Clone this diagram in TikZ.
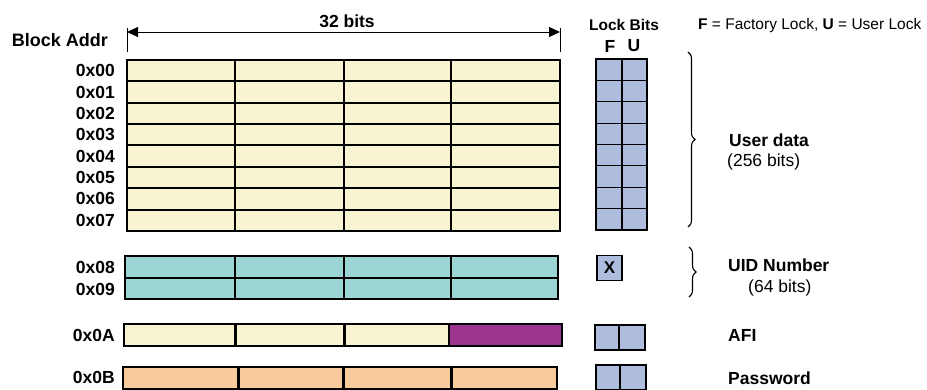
\documentclass[tikz,border=0pt]{standalone}
\usepackage{fontspec}
\setmainfont{Liberation Sans}
\usetikzlibrary{decorations.pathreplacing,arrows.meta}
\definecolor{cream}{HTML}{F8F3D0}
\definecolor{teal}{HTML}{9BD6D4}
\definecolor{purp}{HTML}{9C3590}
\definecolor{orng}{HTML}{F7CB9B}
\definecolor{lockb}{HTML}{AEBDDE}
\begin{document}
\begin{tikzpicture}[x=1pt,y=-1pt,
  big/.style={font=\bfseries\fontsize{17.5}{20}\selectfont,inner sep=0},
  addr/.style={big,anchor=east},
  small/.style={font=\fontsize{15.5}{18}\selectfont,inner sep=0},
  smallb/.style={font=\bfseries\fontsize{15.5}{18}\selectfont,inner sep=0},
  reg/.style={font=\fontsize{17.5}{20}\selectfont,inner sep=0},
  outer/.style={line width=2.2pt,draw=black},
  hline/.style={line width=2pt},
  vthin/.style={line width=1.1pt},
  vthick/.style={line width=3pt},
  lockout/.style={line width=1.8pt},
  lockin/.style={line width=1.2pt},
  brc/.style={decorate,decoration={brace,amplitude=7pt},line width=1.1pt}]
\useasboundingbox (0,0) rectangle (927,390);

% header
\node[big] (bits) at (347,21) {32 bits};
\coordinate (tl1) at (127,28); \coordinate (tl2) at (127,52);
\coordinate (tr1) at (560,28); \coordinate (tr2) at (560,52);
\draw[line width=0.8pt] (tl1) -- (tl2);
\draw[line width=0.8pt] (tr1) -- (tr2);
\coordinate (al) at (127,32); \coordinate (ar) at (560,32);
\draw[line width=0.8pt,{Triangle[length=11pt,width=10pt]}-{Triangle[length=11pt,width=10pt]}] (al) -- (ar);
\node[big,anchor=east,font=\bfseries\fontsize{18}{20}\selectfont] (blk) at (108,40) {Block Addr};
\node[smallb] (lb) at (624,25) {Lock Bits};
\node[big] (fl) at (610,46) {F};
\node[big] (ul) at (634,46) {U};
\node[small,anchor=west] (legend) at (698,25) {\textbf{F} = Factory Lock, \textbf{U} = User Lock};

% user data
\fill[cream] (127,60) rectangle (560,231);
\foreach \i in {1,...,7} \draw[hline] (127,{60+21.375*\i}) -- (560,{60+21.375*\i});
\foreach \x in {235,344,451} \draw[vthin] (\x,60) -- (\x,231);
\draw[outer] (127,60) rectangle (560,231);
\foreach \i/\t in {0/0x00,1/0x01,2/0x02,3/0x03,4/0x04,5/0x05,6/0x06,7/0x07}
  \node[addr] (a\i) at (115,{70.7+21.375*\i}) {\t};

% UID
\fill[teal] (125,256) rectangle (558,299);
\draw[hline] (125,278) -- (558,278);
\foreach \x in {235,344,451} \draw[vthin] (\x,256) -- (\x,299);
\draw[outer] (125,256) rectangle (558,299);
\node[addr] (a8) at (115,267) {0x08};
\node[addr] (a9) at (115,289) {0x09};

% AFI
\fill[cream] (124,324) rectangle (449,346);
\fill[purp] (449,324) rectangle (562,346);
\foreach \x in {235,344} \draw[vthick] (\x,324) -- (\x,346);
\draw[hline] (449,324) -- (449,346);
\draw[outer] (124,324) rectangle (562,346);
\node[addr] (aA) at (115,335) {0x0A};

% Password
\fill[orng] (123,367) rectangle (557,389);
\foreach \x in {238,343,451} \draw[vthick] (\x,367) -- (\x,389);
\draw[outer] (123,367) rectangle (557,389);
\node[addr] (aB) at (115,377) {0x0B};

% lock bits user data
\fill[lockb] (596,59) rectangle (647,230);
\foreach \i in {1,...,7} \draw[lockin] (596,{59+21.375*\i}) -- (647,{59+21.375*\i});
\draw[lockin] (622,59) -- (622,230);
\draw[lockout] (596,59) rectangle (647,230);

% UID lock
\node[draw,lockout,fill=lockb,minimum width=25pt,minimum height=25pt,inner sep=0,
  font=\bfseries\fontsize{17}{18}\selectfont] (xbox) at (609.5,268) {X};

% AFI lock
\fill[lockb] (595,325) rectangle (645,350);
\draw[lockin] (619,325) -- (619,350);
\draw[lockout] (595,325) rectangle (645,350);
% Password lock
\fill[lockb] (596,365) rectangle (646,390);
\draw[lockin] (620,365) -- (620,390);
\draw[lockout] (596,365) rectangle (646,390);

% braces
\coordinate (b1t) at (688,52); \coordinate (b1b) at (688,227);
\draw[brc] (b1t) -- (b1b);
\coordinate (b2t) at (689,247); \coordinate (b2b) at (689,297);
\draw[brc] (b2t) -- (b2b);

% right labels
\node[big,anchor=west] (ud) at (729,140) {User data};
\node[reg,anchor=west] (ud2) at (727,162) {(256 bits)};
\node[big,anchor=west] (uid) at (728,265) {UID Number};
\node[reg,anchor=west] (uid2) at (748,288) {(64 bits)};
\node[big,anchor=west] (afi) at (728,335) {AFI};
\node[big,anchor=west] (pw) at (728,378) {Password};
\end{tikzpicture}
\end{document}
